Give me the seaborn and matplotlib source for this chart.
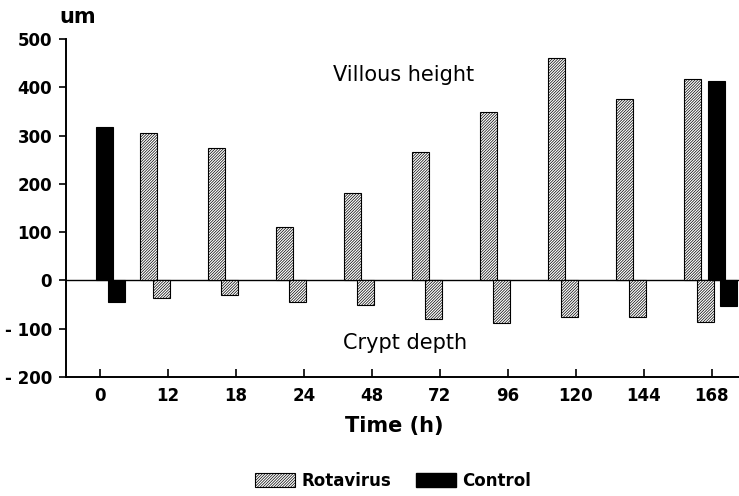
import numpy as np
import pandas as pd
import seaborn as sns
import matplotlib.pyplot as plt
from matplotlib.patches import Patch

# Values (um)
times = ['0', '12', '18', '24', '48', '72', '96', '120', '144', '168']
rota_villous = [np.nan, 305, 274, 111, 182, 267, 348, 460, 376, 418]
rota_crypt = [np.nan, -37, -30, -45, -50, -80, -89, -75, -76, -87]
ctrl_villous = [318] + [np.nan] * 8 + [413]
ctrl_crypt = [-44] + [np.nan] * 8 + [-53]

y_ticks = [-200, -100, 0, 100, 200, 300, 400, 500]
y_labels = ['- 200', '- 100', '0', '100', '200', '300', '400', '500']

series = ['rota_v', 'rota_c', 'ctrl_v', 'ctrl_c']
df = pd.concat([
    pd.DataFrame({'time': times, 'value': vals, 'series': name})
    for name, vals in zip(series, [rota_villous, rota_crypt, ctrl_villous, ctrl_crypt])
]).dropna()

sns.set_style('ticks')
plt.rcParams['font.family'] = ['DejaVu Sans']
plt.rcParams['hatch.linewidth'] = 0.5
plt.rcParams['text.color'] = 'black'
plt.rcParams['xtick.color'] = 'black'
plt.rcParams['ytick.color'] = 'black'
plt.rcParams['axes.labelcolor'] = 'black'
plt.rcParams['axes.edgecolor'] = 'black'

fig = plt.figure(figsize=(7.39, 4.96), dpi=100)
ax = fig.add_axes([66 / 739, 119 / 496, 673 / 739, 338 / 496])

palette = {'rota_v': 'white', 'rota_c': 'white', 'ctrl_v': 'black', 'ctrl_c': 'black'}
sns.barplot(data=df, x='time', y='value', hue='series', order=times,
            hue_order=series, palette=palette, dodge=True, width=0.7,
            edgecolor='black', linewidth=0.8, errorbar=None, legend=False, ax=ax)

# bars overlap a little in the original: re-centre them per series
offsets = {'rota_v': -0.28, 'rota_c': -0.095, 'ctrl_v': 0.07, 'ctrl_c': 0.25}
bw = 0.25
hatch = '/' * 12
for name, cont in zip(series, ax.containers):
    for p in cont.patches:
        idx = round(p.get_x() + p.get_width() / 2)
        p.set_x(idx + offsets[name] - bw / 2)
        p.set_width(bw)
        if name.startswith('rota'):
            p.set_hatch(hatch)

ax.axhline(0, color='black', lw=1.0, zorder=0)

ax.set_xlim(-0.5, 9.4)
ax.set_ylim(-200, 500)
ax.set_yticks(y_ticks)
ax.set_yticklabels(y_labels, fontsize=12, fontweight='bold')
ax.set_xticks(range(len(times)))
ax.set_xticklabels(times, fontsize=12, fontweight='bold')
ax.tick_params(axis='y', direction='out', length=5, width=1.2, pad=5)
ax.tick_params(axis='x', direction='in', length=6, width=1.2, pad=7)
ax.set_ylabel('')
ax.set_xlabel('Time (h)', fontsize=15, fontweight='bold')
ax.xaxis.set_label_coords((394 - 66) / 673, -0.115)

sns.despine(ax=ax)
for s in ['left', 'bottom']:
    ax.spines[s].set_linewidth(1.4)

ax.text((404 - 66) / 673, 0.893, 'Villous height', transform=ax.transAxes,
        ha='center', va='center', fontsize=15)
ax.text((405 - 66) / 673, 0.10, 'Crypt depth', transform=ax.transAxes,
        ha='center', va='center', fontsize=15)
fig.text(78 / 739, 1 - 17 / 496, 'um', ha='center', va='center',
         fontsize=15, fontweight='bold')

handles = [Patch(facecolor='white', edgecolor='black', hatch=hatch, linewidth=0.8),
           Patch(facecolor='black', edgecolor='black')]
fig.legend(handles, ['Rotavirus', 'Control'], loc='center',
           bbox_to_anchor=(393 / 739, 1 - 481 / 496), ncol=2, frameon=False,
           prop={'size': 12, 'weight': 'bold'}, handlelength=2.4,
           handleheight=0.9, handletextpad=0.4, columnspacing=1.5)

fig.savefig('out.png', dpi=100)
